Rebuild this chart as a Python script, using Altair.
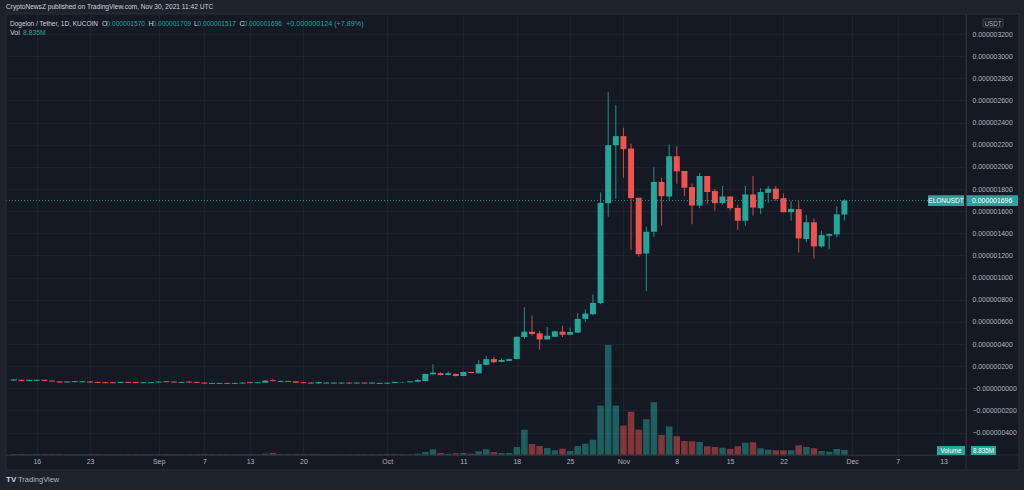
import altair as alt
import pandas as pd

# ---------------- data (prices in units of 1e-9 USDT, volume in millions) ----------------
dates = pd.date_range("2021-08-13", "2021-11-30", freq="D").strftime("%Y-%m-%d").tolist()

opens = [70, 77, 67, 68, 77, 70, 62, 53, 56, 56, 62, 58, 55, 55, 49, 58, 58, 47, 47,
         53, 64, 61, 50, 61, 58, 52, 41, 41, 49, 41, 44, 55, 47, 51, 73, 59, 67, 63, 55,
         52, 45, 44, 44, 44, 52, 44, 52, 44, 41,
         42, 48, 54, 54, 60, 66, 127, 136, 121, 130, 112, 148, 136, 212, 264, 239, 248,
         264, 464, 512, 497, 442, 466, 512, 484, 503, 627, 669, 770, 1672, 2196,
         2278, 2166, 1721, 1218, 1414, 1864, 1733, 2096, 1963, 1818, 1651, 1918, 1782,
         1673, 1733, 1630, 1514, 1751, 1627, 1766, 1803, 1718, 1591, 1618, 1348, 1500,
         1282, 1378, 1390, 1570]
highs = [83, 80, 79, 79, 79, 72, 64, 64, 67, 66, 64, 60, 57, 57, 60, 60, 60, 57, 57,
         63, 66, 63, 60, 63, 60, 54, 51, 51, 51, 51, 54, 60, 57, 72, 80, 69, 69, 65, 57,
         54, 59, 54, 54, 54, 54, 54, 54, 54, 51,
         53, 59, 60, 66, 84, 132, 218, 145, 152, 133, 152, 151, 257, 294, 285, 270, 268,
         470, 733, 657, 520, 554, 520, 566, 548, 680, 712, 848, 1770, 2675, 2560,
         2354, 2211, 1721, 1460, 1996, 1903, 2203, 2185, 1963, 1850, 1945, 1918, 1803,
         1827, 1733, 1660, 1827, 1918, 1809, 1827, 1827, 1757, 1690, 1690, 1566, 1535,
         1424, 1400, 1642, 1709]
lows = [68, 65, 65, 66, 64, 60, 51, 51, 54, 54, 51, 48, 45, 45, 47, 48, 48, 45, 45,
        51, 54, 51, 48, 51, 48, 40, 39, 39, 39, 39, 42, 45, 45, 49, 63, 57, 57, 49, 45,
        42, 43, 42, 42, 42, 42, 42, 42, 42, 39,
        40, 46, 52, 52, 58, 64, 124, 117, 118, 108, 110, 136, 134, 208, 230, 236, 245,
        262, 445, 475, 348, 438, 462, 463, 480, 500, 600, 660, 760, 1551, 1712,
        1903, 1248, 1190, 878, 1370, 1469, 1697, 1848, 1736, 1482, 1627, 1666, 1605,
        1660, 1605, 1433, 1469, 1560, 1575, 1675, 1696, 1591, 1514, 1227, 1318, 1173,
        1270, 1257, 1364, 1517]
closes = [80, 67, 77, 77, 67, 62, 53, 62, 65, 64, 53, 50, 47, 47, 58, 50, 50, 55, 55,
          61, 56, 53, 58, 53, 50, 43, 49, 49, 41, 49, 52, 47, 55, 70, 65, 67, 59, 51, 47,
          44, 57, 52, 52, 52, 44, 52, 44, 52, 49,
          51, 57, 57, 63, 75, 130, 142, 121, 136, 112, 148, 139, 218, 264, 236, 257, 264,
          466, 512, 491, 442, 475, 515, 484, 509, 627, 675, 772, 1675, 2196, 2278,
          2160, 1718, 1212, 1414, 1864, 1736, 2096, 1960, 1812, 1651, 1918, 1773, 1673,
          1733, 1627, 1514, 1751, 1633, 1773, 1803, 1709, 1591, 1621, 1354, 1500, 1282,
          1384, 1393, 1572, 1696]
volumes = [1.6, 1.8, 1.2, 1.3, 1.5, 1.4, 1.6, 1.1, 1.0, 1.0, 1.2, 1.3, 1.2, 1.1, 1.0,
           1.1, 1.0, 0.9, 1.0, 1.2, 1.3, 1.1, 0.9, 1.0, 1.1, 1.6, 1.2, 1.0, 1.1, 0.9,
           1.0, 1.2, 1.1, 2.4, 3.6, 1.4, 1.2, 1.5, 1.4, 1.3, 1.4, 1.0, 0.9, 0.8, 0.9,
           1.0, 1.1, 0.9, 1.0,
           1.4, 1.4, 1.2, 1.2, 2.3, 5.3, 10.1, 3.5, 1.8, 3.0, 3.5, 2.3, 6.5, 10.1, 5.3,
           3.5, 3.5, 14.2, 44.8, 19.5, 15.9, 12.4, 8.3, 11.2, 7.1, 15.9, 20.0, 27.1,
           87.3, 194.7, 87.3,
           51.9, 76.6, 44.8, 63.4, 93.3, 35.4, 50.4, 33.1, 24.8, 24.2, 23.0, 15.4, 14.2,
           12.9, 10.6, 15.4, 21.8, 22.5, 11.9, 9.4, 8.3, 8.3, 8.3, 17.2, 14.2, 11.9, 7.1,
           5.8, 10.6, 8.835]

price_ticks = list(range(-400, 3201, 200))
time_ticks = [(8, 16), (8, 23), (9, 1), (9, 7), (9, 13), (9, 20), (10, 1), (10, 11),
              (10, 18), (10, 25), (11, 1), (11, 8), (11, 15), (11, 22), (12, 1), (12, 7), (12, 13)]

# ---------------- style ----------------
UP, DOWN = "#26a69a", "#ef5350"
PANE, FRAME, GRID, BORDER = "#151924", "#1e222d", "#1e2230", "#2a2e39"
TXT, AXTXT = "#d1d4dc", "#b2b5be"
FONT = "Liberation Sans"

df = pd.DataFrame({"date": dates, "open": opens, "high": highs, "low": lows,
                   "close": closes, "volume": volumes})
df["dir"] = ["up" if c >= o else "down" for o, c in zip(opens, closes)]
last = df.tail(1)

color = alt.Color("dir:N", scale=alt.Scale(domain=["up", "down"], range=[UP, DOWN]), legend=None)

x_enc = alt.X(
    "date:T",
    title=None,
    scale=alt.Scale(type="utc", domain=[
        alt.DateTime(year=2021, month=8, date=12, hours=15, utc=True),
        alt.DateTime(year=2021, month=12, date=15, hours=7, minutes=12, utc=True)]),
    axis=alt.Axis(
        values=[alt.DateTime(year=2021, month=m, date=d, utc=True) for m, d in time_ticks],
        labelExpr="utcdate(datum.value) == 1 ? utcFormat(datum.value, '%b') : '' + utcdate(datum.value)",
        grid=True, gridColor=GRID, gridWidth=1, ticks=False,
        domainColor=BORDER, labelColor=AXTXT, labelFont=FONT, labelFontSize=6.9,
        labelPadding=3, labelFlush=False, labelOverlap=False),
)

price_scale = alt.Scale(domain=[-602, 3381], nice=False, zero=False)
price_axis = alt.Axis(
    orient="right", values=price_ticks, title=None,
    labelExpr="datum.value <= 0 ? '\u2212' + format(abs(datum.value) / 1e9, '.9f') : format(datum.value / 1e9, '.9f')",
    grid=True, gridColor=GRID, gridWidth=1, ticks=False, domainColor=BORDER,
    labelColor=AXTXT, labelFont=FONT, labelFontSize=6.9, labelPadding=6,
    labelOverlap=False, labelAlign="left")

base = alt.Chart(df)

volume = base.mark_bar(size=6.5, opacity=0.5).encode(
    x=x_enc,
    y=alt.Y("volume:Q", scale=alt.Scale(domain=[0, 780], nice=False), axis=None),
    color=color)

wicks = base.mark_rule(strokeWidth=1, opacity=0.85).encode(
    x=x_enc, y=alt.Y("low:Q", scale=price_scale, axis=price_axis), y2="high", color=color)
bodies = base.mark_bar(size=6).encode(
    x=x_enc, y=alt.Y("open:Q", scale=price_scale, axis=price_axis), y2="close", color=color)

price_line = alt.Chart(last).mark_rule(strokeDash=[1, 2], color=UP, opacity=0.85, strokeWidth=1).encode(
    y=alt.Y("close:Q", scale=price_scale, axis=price_axis), x=alt.value(0), x2=alt.value(960))

box_base = alt.Chart(last).transform_calculate(lo="datum.close - 48", hi="datum.close + 48")
price_box = box_base.mark_rect(color=UP).encode(
    y=alt.Y("lo:Q", scale=price_scale, axis=price_axis), y2="hi:Q",
    x=alt.value(960), x2=alt.value(1012))
name_box = box_base.mark_rect(color=UP).encode(
    y=alt.Y("lo:Q", scale=price_scale, axis=price_axis), y2="hi:Q",
    x=alt.value(922), x2=alt.value(958))
price_txt = alt.Chart(last).transform_calculate(t="format(datum.close / 1e9, '.9f')").mark_text(
    align="left", baseline="middle", color="#ffffff", font=FONT, fontSize=6.9).encode(
    y=alt.Y("close:Q", scale=price_scale, axis=price_axis), x=alt.value(966), text="t:N")
name_txt = alt.Chart(last).transform_calculate(t="'ELONUSDT'").mark_text(
    align="center", baseline="middle", color="#ffffff", font=FONT, fontSize=6.5).encode(
    y=alt.Y("close:Q", scale=price_scale, axis=price_axis), x=alt.value(940), text="t:N")

dummy = pd.DataFrame({"k": [0]})


def rect(x, x2, y, y2, **kw):
    return alt.Chart(dummy).mark_rect(**kw).encode(
        x=alt.value(x), x2=alt.value(x2), y=alt.value(y), y2=alt.value(y2))


def text(s, x, y, col, size=6.5, align="left", weight="normal"):
    return alt.Chart(pd.DataFrame({"t": [s]})).mark_text(
        align=align, baseline="middle", color=col, font=FONT, fontSize=size,
        fontWeight=weight).encode(text="t:N", x=alt.value(x), y=alt.value(y))


def rule(x, x2, y, y2, col=BORDER):
    return alt.Chart(dummy).mark_rule(color=col, strokeWidth=1).encode(
        x=alt.value(x), x2=alt.value(x2), y=alt.value(y), y2=alt.value(y2))


o, h, l, c = opens[-1], highs[-1], lows[-1], closes[-1]
chg = c - closes[-2]
pct = chg / closes[-2] * 100

decor = [
    rect(-6, 1018, -14, 0, color=FRAME),
    rect(-6, 0, -14, 476, color=FRAME),
    rect(1013, 1018, -14, 476, color=FRAME),
    rect(-6, 1018, 456, 476, color=FRAME),
    rule(960, 960, 0, 456),
    rule(0, 1013, 441, 441),
    rect(0, 1013, 0, 456, fill=None, stroke=BORDER, strokeWidth=1),
    rect(977, 997, 5, 13, fill=None, stroke="#434651", strokeWidth=1, cornerRadius=1),
    text("USDT", 987, 9.5, AXTXT, 6.3, "center"),
    text("CryptoNewsZ published on TradingView.com, Nov 30, 2021 11:42 UTC", 0, -7, TXT, 6.6),
    text("Dogelon / Tether, 1D, KUCOIN", 4, 10, TXT, 6.5),
    text("O", 96, 10, TXT, 7), text(f"{o / 1e9:.9f}", 100.5, 10, UP, 6.6),
    text("H", 142.5, 10, TXT, 7), text(f"{h / 1e9:.9f}", 146.5, 10, UP, 6.6),
    text("L", 188, 10, TXT, 7), text(f"{l / 1e9:.9f}", 191.5, 10, UP, 6.6),
    text("C", 233.5, 10, TXT, 7), text(f"{c / 1e9:.9f}", 237.5, 10, UP, 6.6),
    text(f"+{chg / 1e9:.9f} (+{pct:.2f}%)", 280, 10, UP, 7.2),
    text("Vol", 4, 19, TXT, 7), text(f"{volumes[-1]:.3f}M", 17, 19, UP, 6.8),
    rect(931, 959, 432, 441, color=UP),
    text("Volume", 945, 436.5, "#ffffff", 6.3, "center"),
    rect(965, 990, 432, 441, color=UP),
    text(f"{volumes[-1]:.3f}M", 977.5, 436.5, "#ffffff", 6.3, "center"),
    text("TV", 0, 466, TXT, 8, "left", "bold"),
    text("TradingView", 12, 466, AXTXT, 7.5),
]

price_group = alt.layer(wicks, bodies, price_line, price_box, name_box, price_txt, name_txt, *decor)

chart = alt.layer(volume, price_group).resolve_scale(y="independent").properties(
    width=960, height=441,
    padding={"left": 6, "top": 14, "right": 58, "bottom": 35},
    autosize=alt.AutoSizeParams(type="none"),
    background=PANE,
).configure_view(stroke=None)

chart.save("out.html", embed_options={"renderer": "svg", "actions": False})
